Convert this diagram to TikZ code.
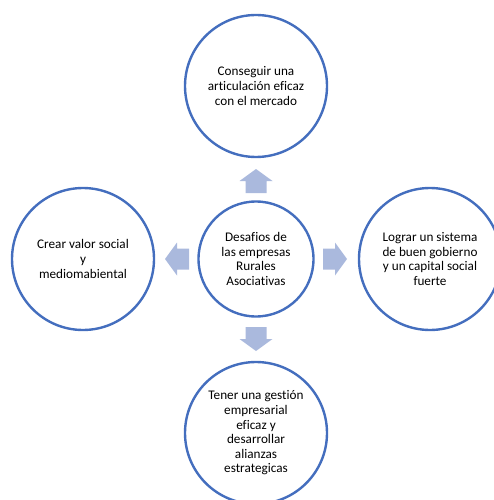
\documentclass[tikz,border=0pt]{standalone}
\usepackage{fontspec}
\setmainfont{Carlito}[Ligatures={NoCommon}]
\definecolor{ringblue}{RGB}{68,110,190}
\definecolor{arrowfill}{RGB}{170,185,221}
\tikzset{
  ring/.style={circle, draw=ringblue, line width=2.4pt, fill=white,
    inner sep=0pt, align=center,
    font=\fontsize{13.2}{14.6}\selectfont},
  outerring/.style={ring, minimum size=142pt},
  hubring/.style={ring, minimum size=115pt},
  blockarrow/.pic={
    \fill[arrowfill] (0,-10.5) -- (12,-10.5) -- (12,-16.5) -- (24,0)
      -- (12,16.5) -- (12,10.5) -- (0,10.5) -- cycle;
  }
}
\begin{document}
\begin{tikzpicture}[x=1pt,y=-1pt]
  \useasboundingbox (0,0) rectangle (494,500);

  % hub and the four challenges around it
  \node[hubring] (hub) at (256,259) {Desafios de\\las empresas\\Rurales\\Asociativas};
  \node[outerring] (top) at (256,86) {Conseguir una\\articulación eficaz\\con el mercado};
  \node[outerring] (left) at (83,259) {Crear valor social\\y\\mediomabiental};
  \node[outerring] (right) at (430,259) {Lograr un sistema\\de buen gobierno\\y un capital social\\fuerte};
  \node[outerring] (bottom) at (256,433) {Tener una gestión\\empresarial\\eficaz y\\desarrollar\\alianzas\\estrategicas};

  % block arrows pointing outward from the hub
  \path (hub.center) ++(90:66pt) pic[rotate=90] {blockarrow};
  \path (hub.center) ++(-90:68pt) pic[rotate=-90] {blockarrow};
  \path (hub.center) ++(180:67pt) pic[rotate=180] {blockarrow};
  \path (hub.center) ++(0:67pt) pic {blockarrow};
\end{tikzpicture}
\end{document}
